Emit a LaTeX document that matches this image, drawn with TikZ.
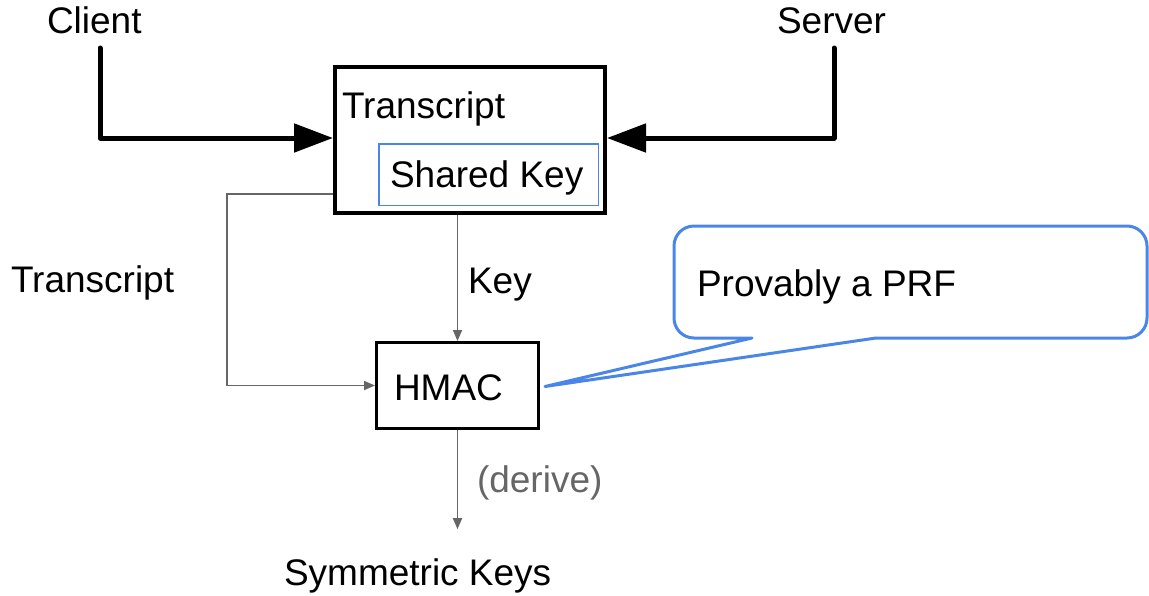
\documentclass[tikz,border=0pt]{standalone}
\usepackage{fontspec}
\setmainfont{Liberation Sans}
\usetikzlibrary{arrows.meta}
\definecolor{calloutblue}{HTML}{4A86E8}
\definecolor{flowgray}{HTML}{666666}
\begin{document}
\begin{tikzpicture}[x=1pt,y=-1pt,
  every node/.style={font=\fontsize{37}{44}\selectfont},
  lbl/.style={anchor=base west, inner sep=0pt, outer sep=0pt},
  bigbox/.style={draw=black, line width=4pt, inner sep=0pt,
                 minimum width=270pt, minimum height=146pt},
  keybox/.style={draw=calloutblue, line width=1.5pt, inner sep=0pt,
                 minimum width=219.5pt, minimum height=61.5pt},
  macbox/.style={draw=black, line width=3pt, inner sep=0pt,
                 minimum width=162pt, minimum height=86pt},
  heavy/.style={line width=5pt, line cap=round, line join=round,
                -{Triangle[length=39pt,width=28pt]}},
  flow/.style={draw=flowgray, line width=1.8pt,
               -{Triangle[length=11pt,width=9pt]}},
  callout/.style={draw=calloutblue, line width=3pt, line join=round, line cap=round}]

  \useasboundingbox (0,0) rectangle (1149,595);

  % parties
  \node[lbl] (client) at (47,33) {Client};
  \node[lbl] (server) at (777,33) {Server};

  % transcript box with the shared key inside
  \node[bigbox] (tbox) at (470,140) {};
  \node[lbl] (ttext) at (342,118) {Transcript};
  \node[keybox] (skey) at (488.5,174.5) {};
  \node[lbl] (sktext) at (390,187) {Shared Key};

  % HMAC box
  \node[macbox] (hmac) at (457.5,385.5) {};
  \node[lbl] (mactext) at (394,400) {HMAC};

  % edge labels
  \node[lbl] (translbl) at (11,292) {Transcript};
  \node[lbl] (keylbl) at (468,293) {Key};
  \node[lbl, text=flowgray] (derivelbl) at (477,492) {(derive)};
  \node[lbl] (symk) at (284,585) {Symmetric Keys};

  % messages from both parties into the transcript
  \coordinate (cstart) at (100,48);
  \coordinate (sstart) at (834,48);
  \draw[heavy] (cstart) |- ([yshift=2pt]tbox.west);
  \draw[heavy] (sstart) |- ([yshift=2pt]tbox.east);

  % transcript and key into HMAC
  \coordinate (tturn) at (227,300);
  \draw[flow] ([yshift=-54pt]tbox.west) -| (tturn) |- (hmac.west);
  \draw[flow] (hmac.north |- tbox.south) -- (hmac.north);

  % derivation of the symmetric keys
  \draw[flow, shorten >=29pt] (hmac.south) -- (hmac.south |- symk.north);

  % speech bubble pointing at HMAC
  \coordinate (tip) at ([xshift=5pt,yshift=-1pt]hmac.east);
  \draw[callout] (876,338) [rounded corners=20pt] -- (1147,338) -- (1147,226)
    -- (674,226) -- (674,338) [sharp corners] -- (752,338) -- (tip) -- (876,338);
  \node[lbl] (prf) at (697,296) {Provably a PRF};
\end{tikzpicture}
\end{document}
